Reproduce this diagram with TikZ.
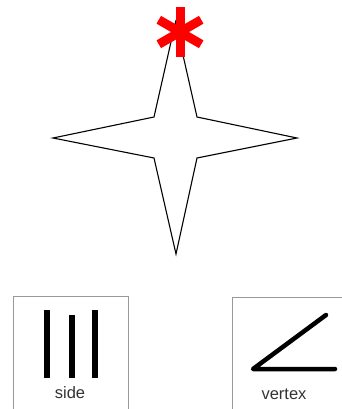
\documentclass[tikz,border=0pt]{standalone}
\usepackage{fontspec}
\setmainfont{Liberation Sans}
\usetikzlibrary{calc}
\begin{document}
\begin{tikzpicture}[x=1pt,y=-1pt,
  starline/.style={draw=black,line width=1.1pt,line join=miter},
  frame/.style={draw=gray!80,line width=0.9pt},
  bar/.style={line width=6pt},
  vline/.style={line width=4.5pt,line cap=round,line join=round},
  lbl/.style={font=\fontsize{16.5}{18}\selectfont,text=black!80,inner sep=0pt},
  ast/.style={draw=red,line width=9pt,line cap=butt}]
\useasboundingbox (0,0) rectangle (342,409);
% star
\coordinate (c) at (175.5,138);
\draw[starline] (175.5,22) -- (197,117) -- (297,138) -- (197,158) -- (176,254)
  -- (154,158) -- (53,138) -- (154,117) -- cycle;
% asterisk
\coordinate (a) at (180,32);
\draw[ast] ($(a)+(90:25)$) -- ($(a)+(270:25)$);
\draw[ast] ($(a)+(30:24.5)$) -- ($(a)+(210:24.5)$);
\draw[ast] ($(a)+(150:24.5)$) -- ($(a)+(330:24.5)$);
% side box
\draw[frame] (13,420) -- (13,296) -- (128,296) -- (128,420);
\draw[bar] (47,310) -- (47,378);
\draw[bar] (72,315) -- (72,378);
\draw[bar] (95,310) -- (95,378);
\node[lbl] (side) at (70,393) {side};
% vertex box
\draw[frame] (232,420) -- (232,297) -- (350,297);
\coordinate (v) at (253,369);
\draw[vline] (335,369) -- (v) -- (326,315);
\node[lbl] (vertex) at (284,394) {vertex};
\end{tikzpicture}
\end{document}
